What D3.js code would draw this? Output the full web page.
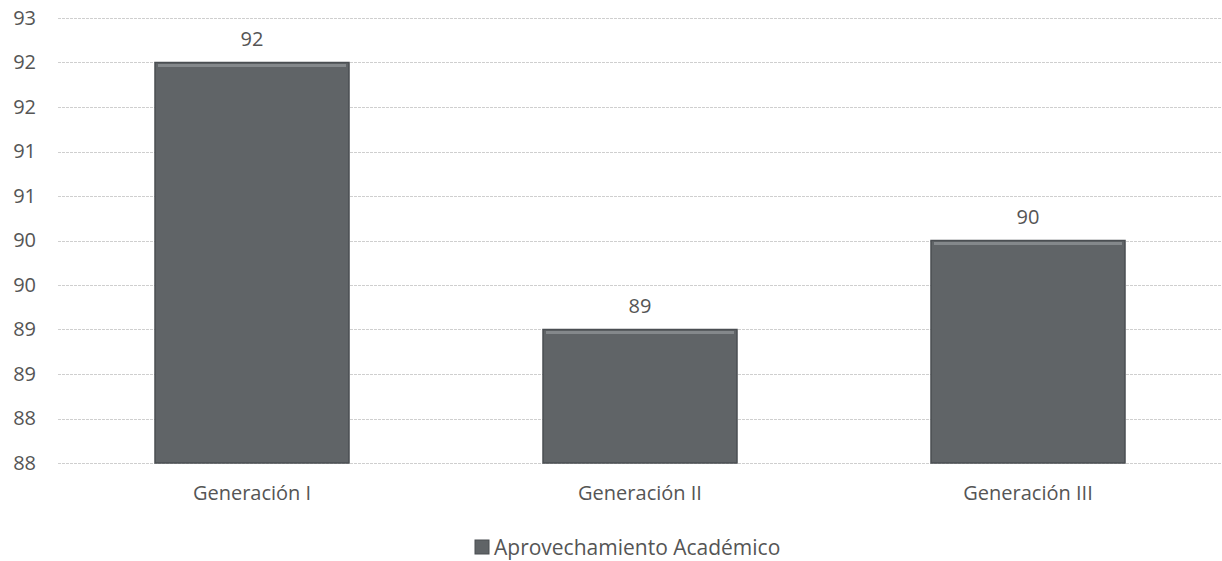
<!DOCTYPE html>
<html>
<head>
<meta charset="utf-8">
<script src="https://cdn.jsdelivr.net/npm/d3@7"></script>
<style>
  html, body { margin: 0; padding: 0; background: #ffffff; }
  svg { display: block; }
  text { font-family: "Open Sans", "Noto Sans", sans-serif; fill: #555555; }
</style>
</head>
<body>
<svg id="chart" width="1222" height="561"></svg>
<script>
const categories = ["Generación I", "Generación II", "Generación III"];
const values = [92, 89, 90];
const valueLabels = ["92", "89", "90"];
const seriesName = "Aprovechamiento Académico";
const tickValues = [87.5, 88, 88.5, 89, 89.5, 90, 90.5, 91, 91.5, 92, 92.5];
const tickLabels = ["88", "88", "89", "89", "90", "90", "91", "91", "92", "92", "93"];

const svg = d3.select("#chart");
const margin = { left: 58, right: 0, top: 18, bottom: 98 };
const W = 1222, H = 561;

const x = d3.scaleBand()
  .domain(categories)
  .range([margin.left, W - margin.right])
  .paddingInner(0.5)
  .paddingOuter(0.25);

const y = d3.scaleLinear()
  .domain([87.5, 92.5])
  .range([H - margin.bottom, margin.top]);

// gridlines
svg.append("g")
  .selectAll("line")
  .data(tickValues)
  .join("line")
  .attr("x1", margin.left)
  .attr("x2", W - margin.right)
  .attr("y1", d => Math.round(y(d)) + 0.5)
  .attr("y2", d => Math.round(y(d)) + 0.5)
  .attr("stroke", "#cfcfcf")
  .attr("stroke-width", 1)
  .attr("stroke-dasharray", "3,1");

// y axis labels
const yAxis = d3.axisLeft(y)
  .tickValues(tickValues)
  .tickFormat((d, i) => tickLabels[i])
  .tickSize(0)
  .tickPadding(0);
const gy = svg.append("g")
  .attr("transform", `translate(36,0)`)
  .call(yAxis);
gy.select(".domain").remove();
gy.selectAll("text")
  .style("font-size", "20px")
  .style("font-family", "'Open Sans', sans-serif")
  .attr("fill", "#555555");

// bars
const bars = svg.append("g");
bars.selectAll("rect")
  .data(values)
  .join("rect")
  .attr("x", (d, i) => x(categories[i]))
  .attr("y", d => y(d))
  .attr("width", x.bandwidth())
  .attr("height", d => y(87.5) - y(d))
  .attr("fill", "#606467")
  .attr("stroke", "#4a4e52")
  .attr("stroke-width", 1.5);

// bevel highlight top
bars.selectAll("line.top")
  .data(values)
  .join("line")
  .attr("class", "top")
  .attr("x1", (d, i) => x(categories[i]) + 3)
  .attr("x2", (d, i) => x(categories[i]) + x.bandwidth() - 3)
  .attr("y1", d => y(d) + 3)
  .attr("y2", d => y(d) + 3)
  .attr("stroke", "#84888b")
  .attr("stroke-width", 3);

// value labels
svg.append("g")
  .selectAll("text")
  .data(values)
  .join("text")
  .attr("x", (d, i) => x(categories[i]) + x.bandwidth() / 2)
  .attr("y", d => y(d) - 17)
  .attr("text-anchor", "middle")
  .style("font-size", "20px")
  .text((d, i) => valueLabels[i]);

// x axis labels
const xAxis = d3.axisBottom(x).tickSize(0).tickPadding(0);
const gx = svg.append("g")
  .attr("transform", `translate(0,${H - margin.bottom + 37})`)
  .call(xAxis);
gx.select(".domain").remove();
gx.selectAll("text")
  .attr("dy", 0)
  .style("font-size", "20px")
  .style("font-family", "'Open Sans', sans-serif")
  .attr("fill", "#555555");

// legend
const lg = svg.append("g").attr("transform", "translate(475,540)");
lg.append("rect")
  .attr("x", 0).attr("y", 0).attr("width", 14).attr("height", 14)
  .attr("fill", "#606467").attr("stroke", "#4a4e52");
lg.append("text")
  .attr("x", 19)
  .attr("y", 15)
  .style("font-size", "21px")
  .text(seriesName);
</script>
</body>
</html>
